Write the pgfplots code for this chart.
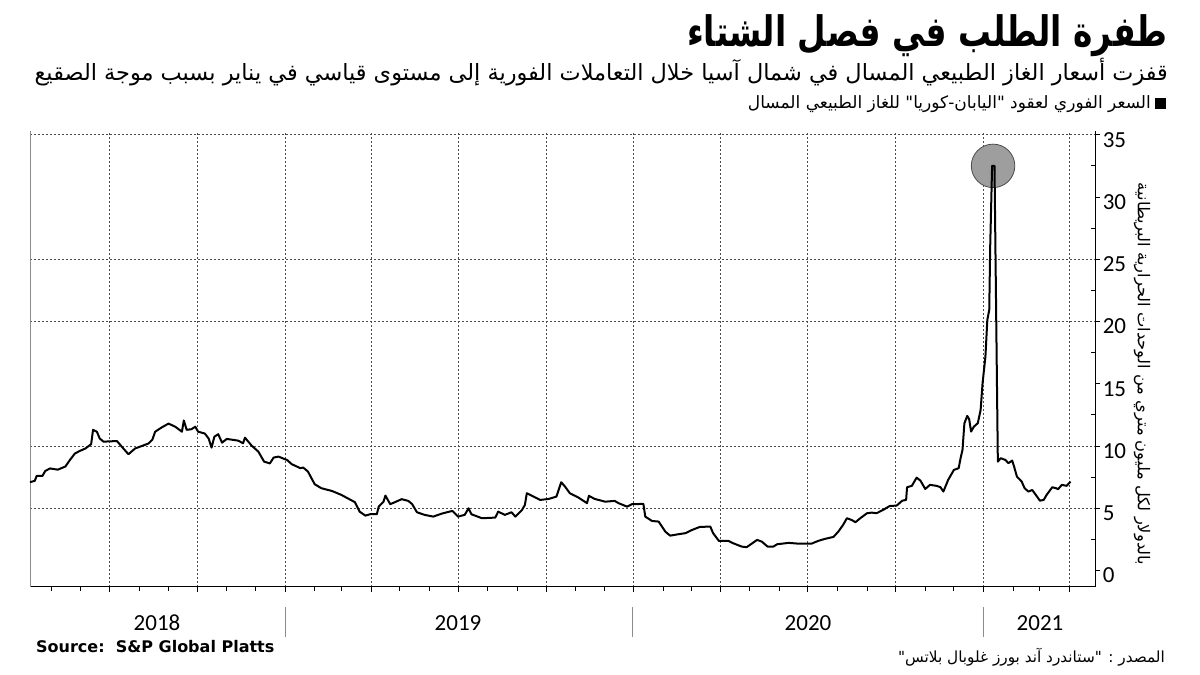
\documentclass[border=0pt]{standalone}
\usepackage{fontspec}
\usepackage{pgfplots}
\pgfplotsset{compat=1.18}
\setmainfont{Carlito}
\newfontfamily\arabicfont[Script=Arabic]{DejaVu Sans}
\newfontfamily\srcfont{DejaVu Sans}
\TeXXeTstate=1

\pgfplotstableread{
day value
98 7.1
103 7.2
105 7.6
111 7.6
114 8.0
119 8.2
127 8.1
135 8.35
140 8.9
145 9.4
150 9.6
156 9.8
162 10.15
164 11.3
168 11.15
171 10.6
175 10.35
189 10.4
194 9.95
201 9.34
208 9.8
215 10.0
222 10.2
226 10.5
229 11.15
236 11.5
243 11.8
250 11.55
257 11.15
259 12.05
262 11.3
267 11.35
271 11.55
274 11.15
281 11.0
285 10.6
288 9.87
291 10.75
295 10.95
299 10.27
304 10.57
316 10.43
321 10.22
323 10.67
330 10.03
337 9.55
343 8.75
349 8.6
353 9.07
358 9.15
367 8.88
372 8.54
381 8.22
384 8.27
389 7.94
392 7.5
396 6.93
403 6.61
414 6.39
424 6.07
438 5.49
443 4.73
449 4.41
454 4.52
461 4.52
463 5.13
468 5.53
470 6.02
475 5.33
480 5.49
487 5.73
494 5.59
498 5.33
503 4.68
511 4.47
520 4.33
529 4.57
540 4.79
546 4.33
553 4.47
557 5.0
560 4.52
571 4.2
585 4.25
588 4.73
595 4.47
602 4.68
606 4.33
613 4.87
616 5.27
618 6.21
623 6.02
632 5.67
641 5.75
649 5.94
654 7.09
658 6.74
663 6.21
672 5.86
681 5.41
683 6.0
689 5.75
700 5.53
710 5.59
714 5.41
723 5.13
728 5.33
740 5.35
742 4.33
749 3.98
756 3.93
763 3.12
768 2.8
777 2.92
784 3.0
791 3.26
799 3.5
810 3.53
813 3.0
819 2.38
829 2.38
834 2.19
843 1.92
848 1.87
854 2.19
859 2.46
864 2.32
870 1.92
876 1.92
880 2.11
892 2.22
902 2.16
916 2.16
923 2.38
930 2.54
939 2.7
944 3.12
949 3.66
953 4.2
958 4.06
962 3.88
967 4.2
974 4.6
979 4.65
984 4.6
991 4.87
998 5.19
1005 5.21
1011 5.61
1015 5.67
1016 6.69
1021 6.8
1026 7.46
1030 7.22
1035 6.55
1040 6.88
1047 6.8
1051 6.69
1054 6.34
1059 7.28
1065 8.08
1070 8.22
1072 9.02
1074 9.69
1076 11.83
1079 12.42
1081 12.15
1083 11.16
1086 11.56
1090 11.83
1093 12.9
1095 15.04
1098 17.18
1100 20.13
1102 20.93
1103 26.0
1105 32.5
1107.5 32.5
1111 8.75
1114 9.02
1119 8.88
1122 8.62
1126 8.83
1128 8.35
1131 7.54
1136 7.14
1139 6.61
1143 6.34
1147 6.47
1152 5.94
1155 5.61
1159 5.67
1162 6.07
1168 6.69
1172 6.61
1174 6.53
1178 6.88
1183 6.8
1187 7.14
}\jkm

\begin{document}
\begin{tikzpicture}
\useasboundingbox (0pt,0pt) rectangle (1200pt,-675pt);
\tikzset{gridline/.style={draw=black!70, line width=0.8pt, dash pattern=on 2pt off 2pt}}
\begin{axis}[
  at={(30pt,-586.7pt)}, anchor=south west,
  width=1065.3pt, height=455.7pt, scale only axis,
  xmin=98, xmax=1213, ymin=-1.3, ymax=35.3,
  axis x line*=bottom, axis y line*=right,
  axis line style={black, line width=1pt},
  xtick={181,273,365,455,546,638,730,821,912,1004,1096,1186},
  xticklabel=\empty,
  minor xtick={120,151,212,243,304,334,396,424,485,516,577,608,669,699,761,790,851,882,943,974,1035,1065,1127,1155},
  xmajorgrids, grid style={gridline},
  ytick={0,5,...,35},
  minor y tick num=1,
  tick align=outside,
  major tick length=5pt, minor tick length=4pt,
  tick style={black, line width=0.8pt},
  minor y tick style={xshift=-4pt},
  /pgf/number format/assume math mode=true,
  yticklabel style={font=\fontsize{23}{23}\selectfont, anchor=west, xshift=-1pt, yshift=-5pt},
  clip=false,
]
\pgfplotsinvokeforeach{5,10,20,25,35}{\draw[gridline] (axis cs:98,#1) -- (axis cs:1213,#1);}
\draw[black!45, line width=0.8pt] (rel axis cs:0,0) -- (rel axis cs:0,1);
\node[circle, fill=black!38, draw=black!70, line width=0.8pt, minimum size=43.5pt, inner sep=0pt] at (axis cs:1106,32.5) {};
\addplot[black, line width=2pt, line join=round] table[x=day, y=value] {\jkm};
\end{axis}

% year labels
\foreach \x/\lab in {157/2018, 458/2019, 808/2020, 1040/2021}{
  \node[font=\fontsize{23}{23}\selectfont] at (\x pt,-623pt) {\lab};
}
\foreach \x in {285, 632, 983}{
  \draw[black!45, line width=1pt] (\x pt,-607pt) -- (\x pt,-637pt);
}

% titles
\node[anchor=base east, inner sep=0pt] at (1168pt,-46pt)
  {\scalebox{0.82}[1.05]{\arabicfont\bfseries\fontsize{40}{40}\selectfont\beginR طفرة الطلب في فصل الشتاء\endR}};
\node[anchor=base east, inner sep=0pt] at (1168pt,-80pt)
  {\arabicfont\fontsize{22.4}{22.4}\selectfont\beginR قفزت أسعار الغاز الطبيعي المسال في شمال آسيا خلال التعاملات الفورية إلى مستوى قياسي في يناير بسبب موجة الصقيع\endR};
\fill[black] (1155pt,-98pt) rectangle (1166pt,-109pt);
\node[anchor=base east, inner sep=0pt] at (1151pt,-108pt)
  {\arabicfont\fontsize{17}{17}\selectfont\beginR السعر الفوري لعقود "اليابان-كوريا" للغاز الطبيعي المسال\endR};

% y label
\node[rotate=-90, inner sep=0pt] at (1142pt,-374pt)
  {\arabicfont\fontsize{16.3}{16.3}\selectfont\beginR بالدولار لكل مليون متري من الوحدات الحرارية البريطانية\endR};

% sources
\node[anchor=base west, inner sep=0pt] at (36pt,-652pt)
  {\srcfont\bfseries\fontsize{16}{16}\selectfont Source:~~S\&P Global Platts};
\node[anchor=base east, inner sep=0pt] at (1165pt,-662pt)
  {\arabicfont\fontsize{15.3}{15.3}\selectfont\beginR المصدر : "ستاندرد آند بورز غلوبال بلاتس"\endR};
\end{tikzpicture}
\end{document}
